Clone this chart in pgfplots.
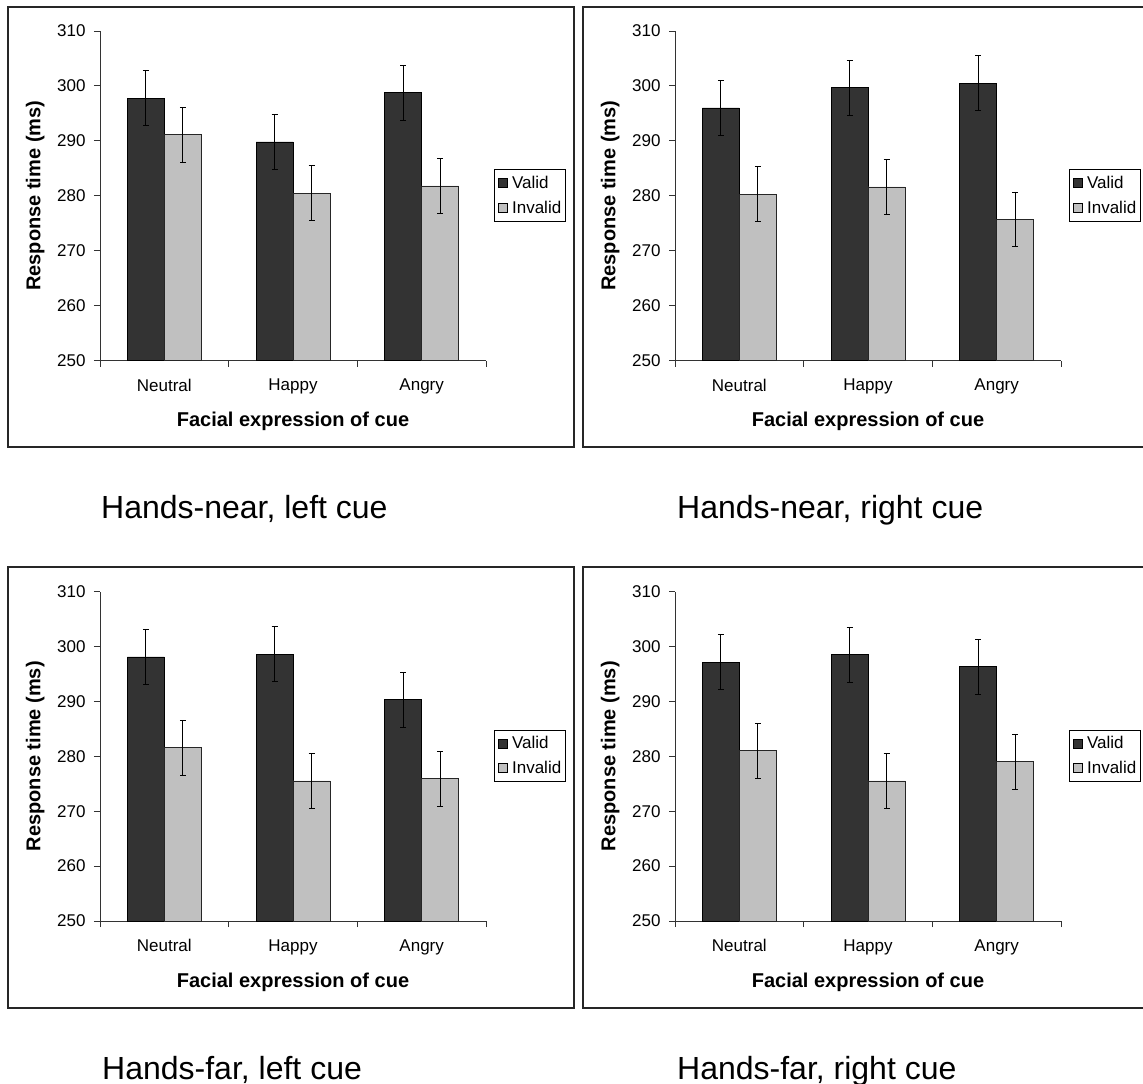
\documentclass[border=0pt]{standalone}
\usepackage{pgfplots}
\usepackage{pgfplotstable}
\usepackage{fontspec}
\setmainfont{Liberation Sans}
\pgfplotsset{compat=1.18}

\definecolor{darkbar}{HTML}{333333}
\definecolor{lightbar}{HTML}{C0C0C0}

\pgfplotstableread{
x v ve i ie
0 297.8 5 291.1 5
1 289.8 5 280.5 5
2 298.8 5 281.8 5
}\tabTL
\pgfplotstableread{
x v ve i ie
0 296.0 5 280.3 5
1 299.7 5 281.6 5
2 300.5 5 275.7 5
}\tabTR
\pgfplotstableread{
x v ve i ie
0 298.1 5 281.6 5
1 298.6 5 275.5 5
2 290.3 5 275.9 5
}\tabBL
\pgfplotstableread{
x v ve i ie
0 297.1 5 281.0 5
1 298.5 5 275.5 5
2 296.3 5 279.0 5
}\tabBR

\pgfplotsset{
  panel/.style={
    scale only axis, width=386bp, height=329.5bp, anchor=south west,
    ybar=0pt, bar width=37bp,
    xmin=-0.5, xmax=2.5, ymin=250, ymax=310,
    axis lines*=left,
    axis line style={black!80, line width=0.9bp},
    xtick={-0.5,0.5,1.5,2.5}, xticklabels={},
    extra x ticks={0,1,2}, extra x tick labels={Neutral,Happy,Angry},
    extra x tick style={major tick length=0pt, xticklabel style={yshift=-15bp}},
    ytick={250,260,...,310},
    tick align=outside,
    tick style={black!80, line width=0.9bp},
    major tick length=6bp,
    /pgf/number format/assume math mode=true,
    ticklabel style={font=\fontsize{17bp}{20bp}\selectfont},
    yticklabel style={xshift=-5bp},
    xlabel={Facial expression of cue},
    ylabel={Response time (ms)},
    label style={font=\fontsize{20bp}{24bp}\selectfont\bfseries},
    xlabel style={at={(axis description cs:0.5,0)}, anchor=center, yshift=-61bp},
    ylabel style={at={(axis description cs:-0.168,0.5)}, anchor=center},
    legend style={at={(axis description cs:1.021,0.581)}, anchor=north west,
      draw=black, line width=0.8bp, inner xsep=3bp, inner ysep=1bp,
      font=\fontsize{17bp}{20bp}\selectfont, row sep=0bp,
      nodes={inner xsep=1.5bp, inner ysep=5.5bp},
      /tikz/every odd column/.append style={column sep=3.5bp}},
    legend cell align=left,
    legend image code/.code={\draw[#1, draw=black, line width=0.6bp] (0bp,-4.5bp) rectangle (9bp,4.5bp);},
    error bars/y dir=both, error bars/y explicit,
    error bars/error bar style={black, line width=0.8bp},
    error bars/error mark options={rotate=90, mark size=3bp, black, line width=0.8bp},
  },
  valid/.style={fill=darkbar, draw=black, line width=0.6bp},
  invalid/.style={fill=lightbar, draw=black!85, line width=0.6bp},
}

\begin{document}
\begin{tikzpicture}
\path[use as bounding box, clip] (0bp,0bp) rectangle (1143bp,-1084bp);
\fill[white] (0bp,0bp) rectangle (1143bp,-1084bp);

% frames
\draw[black!85, line width=1.5bp] (8bp,-7bp) rectangle (574bp,-447bp);
\draw[black!85, line width=1.5bp] (583bp,-7bp) rectangle (1160bp,-447bp);
\draw[black!85, line width=1.5bp] (8bp,-567bp) rectangle (574bp,-1008bp);
\draw[black!85, line width=1.5bp] (583bp,-567bp) rectangle (1160bp,-1008bp);

% top-left
\begin{axis}[panel, at={(100bp,-360.5bp)}]
\addplot[valid] table[x=x, y=v, y error=ve] {\tabTL};
\addplot[invalid] table[x=x, y=i, y error=ie] {\tabTL};
\legend{Valid,Invalid}
\end{axis}

% top-right
\begin{axis}[panel, at={(675bp,-360.5bp)}]
\addplot[valid] table[x=x, y=v, y error=ve] {\tabTR};
\addplot[invalid] table[x=x, y=i, y error=ie] {\tabTR};
\legend{Valid,Invalid}
\end{axis}

% bottom-left
\begin{axis}[panel, at={(100bp,-921bp)}]
\addplot[valid] table[x=x, y=v, y error=ve] {\tabBL};
\addplot[invalid] table[x=x, y=i, y error=ie] {\tabBL};
\legend{Valid,Invalid}
\end{axis}

% bottom-right
\begin{axis}[panel, at={(675bp,-921bp)}]
\addplot[valid] table[x=x, y=v, y error=ve] {\tabBR};
\addplot[invalid] table[x=x, y=i, y error=ie] {\tabBR};
\legend{Valid,Invalid}
\end{axis}

% captions
\begin{scope}[every node/.style={anchor=base west, inner sep=0pt, font=\fontsize{32bp}{36bp}\selectfont}]
\node at (101bp,-518bp) {Hands-near, left cue};
\node at (677bp,-518bp) {Hands-near, right cue};
\node at (102bp,-1079bp) {Hands-far, left cue};
\node at (677bp,-1079bp) {Hands-far, right cue};
\end{scope}
\end{tikzpicture}
\end{document}
